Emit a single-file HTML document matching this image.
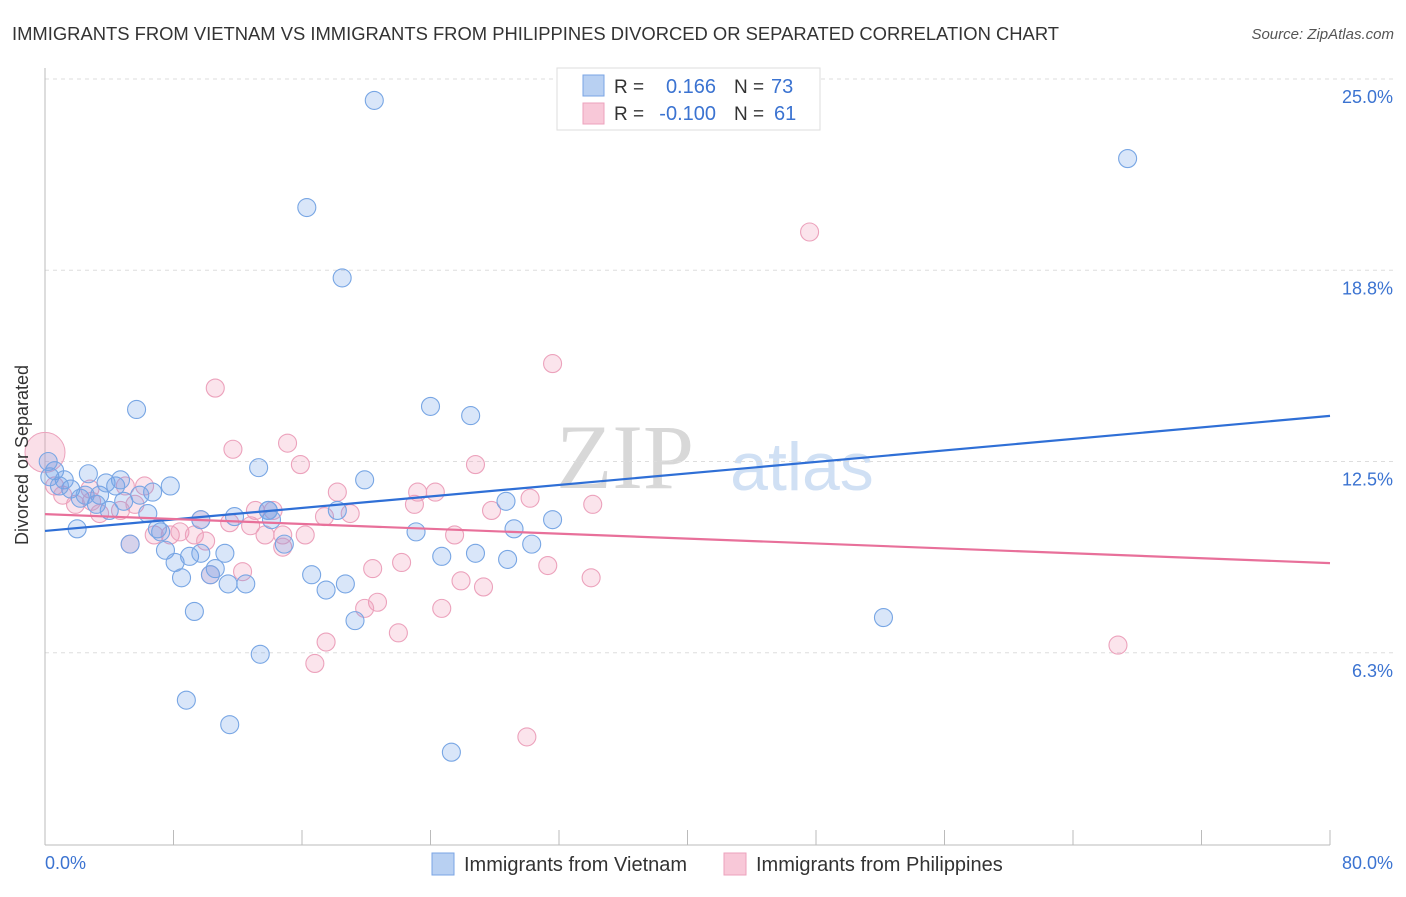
<!DOCTYPE html>
<html><head><meta charset="utf-8"><style>
body{margin:0;background:#fff;font-family:"Liberation Sans",sans-serif}
</style></head><body>
<svg id="c" width="1406" height="892" xmlns="http://www.w3.org/2000/svg" style="font-family:'Liberation Sans',sans-serif">
<text x="12" y="40" font-size="18.4" fill="#333">IMMIGRANTS FROM VIETNAM VS IMMIGRANTS FROM PHILIPPINES DIVORCED OR SEPARATED CORRELATION CHART</text>
<text x="1394" y="39" font-size="15" fill="#555" font-style="italic" text-anchor="end">Source: ZipAtlas.com</text>
<text x="625" y="488" font-size="92" fill="#d8d8d8" font-family="'Liberation Serif',serif" text-anchor="middle">ZIP</text>
<text x="802" y="490" font-size="68" fill="#d0e0f4" text-anchor="middle">atlas</text>
<g id="grid"></g><g id="axes"></g><g id="pts"></g><g id="lines"></g>
<text x="28" y="455" font-size="18" fill="#333" text-anchor="middle" transform="rotate(-90 28 455)">Divorced or Separated</text>
<text x="45" y="869" font-size="18" fill="#3b73d1">0.0%</text>
<text x="1393" y="869" font-size="18" fill="#3b73d1" text-anchor="end">80.0%</text>
<g>
<rect x="557" y="68" width="263" height="62" fill="#fff" stroke="#ddd"/>
<rect x="583" y="75" width="21" height="21" fill="#b8d0f2" stroke="#7aa4e4"/>
<rect x="583" y="103" width="21" height="21" fill="#f8c8d8" stroke="#eca2bc"/>
<text x="614" y="93" font-size="19" fill="#333">R = </text><text x="716" y="93" font-size="20" fill="#3b73d1" text-anchor="end">0.166</text>
<text x="734" y="93" font-size="19" fill="#333">N = </text><text x="771" y="93" font-size="20" fill="#3b73d1">73</text>
<text x="614" y="120" font-size="19" fill="#333">R = </text><text x="716" y="120" font-size="20" fill="#3b73d1" text-anchor="end">-0.100</text>
<text x="734" y="120" font-size="19" fill="#333">N = </text><text x="774" y="120" font-size="20" fill="#3b73d1">61</text>
</g>
<g>
<rect x="432" y="853" width="22" height="22" fill="#b8d0f2" stroke="#7aa4e4"/>
<text x="464" y="871" font-size="20" fill="#333">Immigrants from Vietnam</text>
<rect x="724" y="853" width="22" height="22" fill="#f8c8d8" stroke="#eca2bc"/>
<text x="756" y="871" font-size="20" fill="#333">Immigrants from Philippines</text>
</g>
</svg>
<script>
const yTicks=[25.0,18.75,12.5,6.25];
const yTickLabels=["25.0%","18.8%","12.5%","6.3%"];
const xTicks=[0,8,16,24,32,40,48,56,64,72,80];
const vietX=[20.5,16.3,67.4,18.5,5.7,24.0,26.5,13.3,19.9,2.7,0.6,0.3,1.2,1.6,2.2,3.4,3.8,4.4,4.9,6.7,7.8,5.9,3.2,4.0,6.4,2.0,5.3,7.2,7.5,8.1,8.5,9.0,9.7,9.7,10.6,11.2,11.4,11.8,12.5,13.9,14.1,14.9,16.6,17.5,18.7,18.2,19.3,10.3,9.3,8.8,11.5,13.4,23.1,24.7,26.8,28.8,29.2,28.7,30.3,31.6,25.3,52.2,0.2,0.9,4.7,2.5,13.9,7.0];
const vietY=[24.3,20.8,22.4,18.5,14.2,14.3,14.0,12.3,11.9,12.1,12.2,12.0,11.9,11.6,11.3,11.4,11.8,11.7,11.2,11.5,11.7,11.4,11.1,10.9,10.8,10.3,9.8,10.2,9.6,9.2,8.7,9.4,9.5,10.6,9.0,9.5,8.5,10.7,8.5,10.9,10.6,9.8,8.8,8.3,8.5,10.9,7.3,8.8,7.6,4.7,3.9,6.2,10.2,9.4,9.5,9.3,10.3,11.2,9.8,10.6,3.0,7.4,12.5,11.7,11.9,11.4,10.9,10.3];
const philX=[47.6,31.6,10.6,15.1,11.7,15.9,26.8,0.6,2.8,5.0,6.2,3.4,4.7,5.6,7.8,8.4,9.3,10.0,5.3,6.8,11.5,12.8,13.7,14.2,14.8,16.2,17.4,18.2,19.0,23.0,23.2,24.3,25.5,27.8,30.2,34.1,14.8,20.4,22.2,25.9,27.3,31.3,34.0,10.3,12.3,20.7,19.9,24.7,22.0,17.5,16.8,30.0,66.8,2.9,1.1,1.9,13.1,9.7];
const philY=[20.0,15.7,14.9,13.1,12.9,12.4,12.4,11.7,11.6,11.7,11.7,10.8,10.9,11.1,10.1,10.2,10.1,9.9,9.8,10.1,10.5,10.4,10.1,10.9,10.1,10.1,10.7,11.5,10.8,11.1,11.5,11.5,10.1,10.9,11.3,11.1,9.7,9.0,9.2,8.6,8.4,9.1,8.7,8.8,8.9,7.9,7.7,7.7,6.9,6.6,5.9,3.5,6.5,11.2,11.4,11.1,10.9,10.6];
const trendIntercept=[10.23,10.78];
const trendEnd=[13.99,9.18];
const X=v=>45+v*(1285/80);
const Y=v=>79+(25-v)*30.6;
const NS="http://www.w3.org/2000/svg";
function mk(p,t,a){const e=document.createElementNS(NS,t);for(const k in a)e.setAttribute(k,a[k]);p.appendChild(e);return e;}
const grid=document.getElementById('grid'),axes=document.getElementById('axes'),pts=document.getElementById('pts'),lines=document.getElementById('lines');
yTicks.forEach((t,i)=>{
 const l=mk(grid,'line',{x1:45,x2:1393,y1:Y(t),y2:Y(t),stroke:'#ddd','stroke-dasharray':'4,4'});
 
 
 const tx=mk(axes,'text',{x:1393,y:Y(t)+24,'font-size':18,fill:'#3b73d1','text-anchor':'end'});
 tx.textContent=yTickLabels[i];
 
 
});
const ya=mk(axes,'line',{x1:45,x2:45,y1:68,y2:845,stroke:'#bbb'});


const xa=mk(axes,'line',{x1:45,x2:1330,y1:845,y2:845,stroke:'#bbb'});


xTicks.forEach(t=>{
 const l=mk(axes,'line',{x1:X(t),x2:X(t),y1:830,y2:845,stroke:'#bbb'});
 
 
});
function dots(xs,ys,fill,stroke,name){
 xs.forEach((x,i)=>{
  const c=mk(pts,'circle',{cx:X(x),cy:Y(ys[i]),r:9,fill:fill,stroke:stroke,'stroke-width':1.1});
  
  
 });
}
const big=mk(pts,'circle',{cx:X(0),cy:Y(12.8),r:20,fill:'rgba(240,150,180,0.3)',stroke:'#eca2bc'});


dots(philX,philY,'rgba(240,150,180,0.26)','#eca2bc','philippines-point');
dots(vietX,vietY,'rgba(110,160,230,0.26)','#78a6e4','vietnam-point');
const cols=['#2f6fd6','#e8709a'];
const names=['vietnam-trend-line','philippines-trend-line'];
trendIntercept.forEach((b,i)=>{
 const l=mk(lines,'line',{x1:X(0),y1:Y(b),x2:X(80),y2:Y(trendEnd[i]),stroke:cols[i],'stroke-width':2.2});
 
 
});
</script>
</body></html>
